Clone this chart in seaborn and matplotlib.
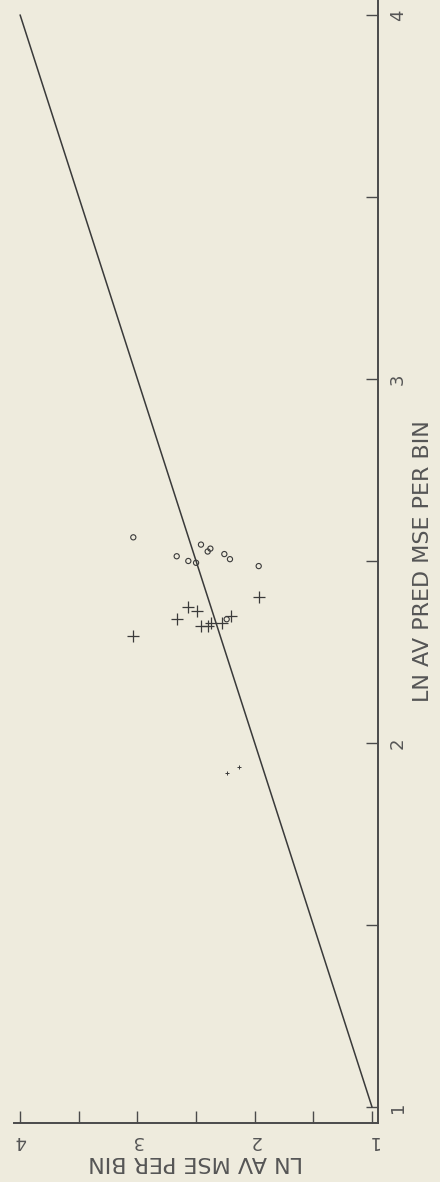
# ==========================================================
# LN AV MSE vs LN AV PRED MSE PER BIN  (page scanned sideways)
# ==========================================================

import numpy as np
import pandas as pd
import matplotlib
matplotlib.use("Agg")
import matplotlib.pyplot as plt
import seaborn as sns

# ==========================================================
# DATA
# ==========================================================

# circles
circle_pred = [2.565, 2.513, 2.500, 2.495, 2.545, 2.526, 2.534,
               2.519, 2.505, 2.486, 2.340]
circle_mse = [3.035, 2.665, 2.566, 2.500, 2.458, 2.401, 2.378,
              2.259, 2.211, 1.966, 2.239]

# crosses
cross_pred = [2.294, 2.340, 2.373, 2.362, 2.322, 2.322, 2.329,
              2.329, 2.350, 2.401]
cross_mse = [3.035, 2.665, 2.566, 2.494, 2.460, 2.396, 2.375,
             2.279, 2.202, 1.966]

# faint broken marks
faint_pred = [1.918, 1.934]
faint_mse = [2.236, 2.134]

# 45 degree reference line
line_vals = [1.0, 4.0]

tick_major = [1, 2, 3, 4]
tick_minor = [1.5, 2.5, 3.5]

x_label = "LN AV PRED MSE PER BIN"
y_label = "LN AV MSE PER BIN"

# ==========================================================
# STYLE
# ==========================================================

paper = "#EEEBDD"
ink = "#3a3a3a"

sns.set_theme(style="ticks")
plt.rcParams["font.family"] = ["DejaVu Sans"]

circles = pd.DataFrame({"pred": circle_pred, "mse": circle_mse})
crosses = pd.DataFrame({"pred": cross_pred, "mse": cross_mse})
faint = pd.DataFrame({"pred": faint_pred, "mse": faint_mse})
diag = pd.DataFrame({"pred": line_vals, "mse": line_vals})

# ==========================================================
# PLOT  (page is turned: pred runs up, mse runs right-to-left)
# ==========================================================

fig = plt.figure(figsize=(4.4, 11.82), dpi=100, facecolor=paper)
ax = fig.add_axes([14 / 440, 59.3 / 1182, 364 / 440, 1122.7 / 1182])
ax.set_facecolor(paper)

sns.lineplot(data=diag, x="mse", y="pred", color=ink, linewidth=1.1,
             ax=ax, legend=False)

sns.scatterplot(data=circles, x="mse", y="pred", marker="o", s=14,
                facecolors="none", edgecolor=ink, linewidth=0.8, ax=ax)

sns.scatterplot(data=crosses, x="mse", y="pred", marker="+", s=75,
                color=ink, linewidth=0.9, ax=ax)

sns.scatterplot(data=faint, x="mse", y="pred", marker="+", s=12,
                color=ink, linewidth=0.7, ax=ax)

ax.set_xlim(4.052, 0.949)
ax.set_ylim(0.957, 4.041)

# spines: only the two axes of the original plot
for side in ["top", "left"]:
    ax.spines[side].set_visible(False)
for side in ["bottom", "right"]:
    ax.spines[side].set_color("#4a4a4a")
    ax.spines[side].set_linewidth(1.4)

ax.yaxis.tick_right()
ax.yaxis.set_label_position("right")

ax.set_xticks(tick_major)
ax.set_xticks(tick_minor, minor=True)
ax.set_yticks(tick_major)
ax.set_yticks(tick_minor, minor=True)

ax.set_xticklabels([str(t) for t in tick_major], rotation=180)
ax.set_yticklabels([str(t) for t in tick_major], rotation=90, va="center")

ax.tick_params(which="both", direction="in", length=8.5, width=1.0,
               color="#4a4a4a", labelcolor="#555555", labelsize=13)
ax.tick_params(axis="x", which="major", pad=7)
ax.tick_params(axis="y", which="major", pad=8)

ax.set_xlabel(y_label, rotation=180, fontsize=16, color="#555555")
ax.set_ylabel(x_label, rotation=90, fontsize=16, color="#555555")
ax.xaxis.set_label_coords(0.5, -0.026)
ax.yaxis.set_label_coords(1.095, 0.5)

plt.savefig("out.png", dpi=100, facecolor=paper)
